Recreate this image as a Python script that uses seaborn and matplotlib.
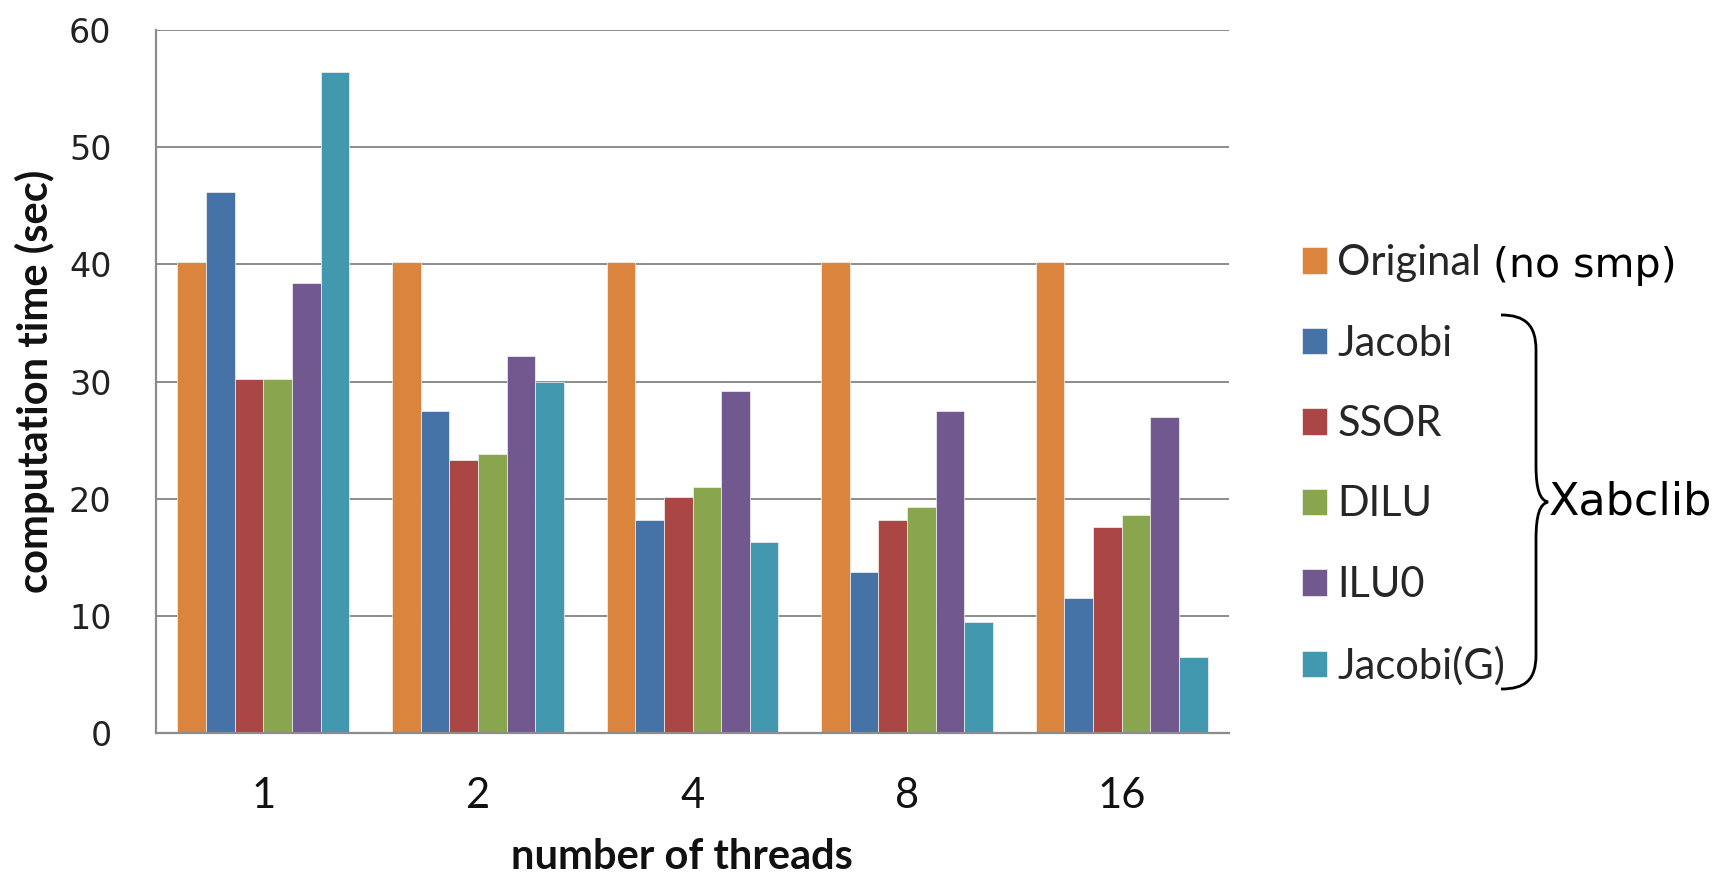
import matplotlib
matplotlib.use("Agg")
import matplotlib.pyplot as plt
import pandas as pd
import seaborn as sns
from matplotlib.path import Path
from matplotlib.patches import PathPatch, Patch

# Computation time (sec) per preconditioner and thread count
threads = ["1", "2", "4", "8", "16"]
methods = ["Original", "Jacobi", "SSOR", "DILU", "ILU0", "Jacobi(G)"]
original = [40.2, 40.2, 40.2, 40.2, 40.2]
jacobi = [46.2, 27.5, 18.2, 13.7, 11.5]
ssor = [30.2, 23.3, 20.1, 18.2, 17.6]
dilu = [30.2, 23.8, 21.0, 19.3, 18.6]
ilu0 = [38.4, 32.2, 29.2, 27.5, 27.0]
jacobi_g = [56.4, 30.0, 16.3, 9.5, 6.5]
colors = ["#DB843D", "#4572A7", "#AA4643", "#89A54E", "#71588F", "#4198AF"]

series = [original, jacobi, ssor, dilu, ilu0, jacobi_g]
rows = []
for m, vals in zip(methods, series):
    for t, v in zip(threads, vals):
        rows.append({"threads": t, "method": m, "time": v})
df = pd.DataFrame(rows)

sns.set_theme(style="white")
plt.rcParams["font.family"] = ["Lato", "DejaVu Sans"]

W, H = 1723, 875
fig = plt.figure(figsize=(W / 100, H / 100), dpi=100)
ax = fig.add_axes([156 / W, 1 - 733 / H, (1229 - 156) / W, (733 - 30) / H])

sns.barplot(data=df, x="threads", y="time", hue="method", order=threads,
            hue_order=methods, palette=colors, saturation=1, width=0.8,
            errorbar=None, edgecolor="#F4F4F4", linewidth=0.5,
            legend=False, ax=ax)

grid_c = "#8C8C8C"
ax.set_xlim(-0.5, 4.5)
ax.set_ylim(0, 60)
ax.set_yticks(range(0, 61, 10))
ax.yaxis.grid(True, color=grid_c, linewidth=1.4)
ax.xaxis.grid(False)
ax.set_axisbelow(True)
for s in ["top", "right"]:
    ax.spines[s].set_visible(False)
for s in ["left", "bottom"]:
    ax.spines[s].set_color(grid_c)
    ax.spines[s].set_linewidth(1.6)

ax.tick_params(axis="y", length=0, pad=32, labelsize=24, colors="#222222")
ax.tick_params(axis="x", length=0, pad=32, labelsize=30, colors="#111111")
for lbl in ax.get_yticklabels():
    lbl.set_fontfamily("DejaVu Sans")

ax.set_xlabel("number of threads", fontsize=30, fontweight="bold",
              color="#111111")
ax.set_ylabel("computation time (sec)", fontsize=30, fontweight="bold",
              color="#111111")
ax.xaxis.set_label_coords(0.49, -0.15)
ax.yaxis.set_label_coords(-0.094, 0.5)

handles = [Patch(facecolor=c, edgecolor="#F4F4F4", linewidth=0.5) for c in colors]
fig.legend(handles, methods, loc="upper left",
           bbox_to_anchor=(1302 / W, 1 - 244 / H), frameon=False,
           fontsize=30, handlelength=0.6, handleheight=0.6,
           handletextpad=0.25, labelspacing=1.02, borderpad=0,
           borderaxespad=0, labelcolor="#262626")

fig.text(1493 / W, 1 - 266 / H, "(no smp)", fontsize=29.5,
         family="DejaVu Sans", color="black", va="center", ha="left")

# Curly brace grouping the Xabclib solvers
pts = [(1501, 315), (1525, 315), (1536, 325), (1536, 350),
       (1536, 465),
       (1536, 490), (1540, 500), (1548, 502),
       (1540, 504), (1536, 514), (1536, 540),
       (1536, 655),
       (1536, 680), (1525, 689), (1501, 689)]
codes = [Path.MOVETO, Path.CURVE4, Path.CURVE4, Path.CURVE4,
         Path.LINETO,
         Path.CURVE4, Path.CURVE4, Path.CURVE4,
         Path.CURVE4, Path.CURVE4, Path.CURVE4,
         Path.LINETO,
         Path.CURVE4, Path.CURVE4, Path.CURVE4]
brace = Path([(x / W, 1 - y / H) for x, y in pts], codes)
fig.add_artist(PathPatch(brace, transform=fig.transFigure, facecolor="none",
                         edgecolor="black", linewidth=2))

fig.text(1549 / W, 1 - 502 / H, "Xabclib", fontsize=32,
         family="DejaVu Sans", color="black", va="center", ha="left")

fig.savefig("out.png", dpi=100, facecolor="white")
